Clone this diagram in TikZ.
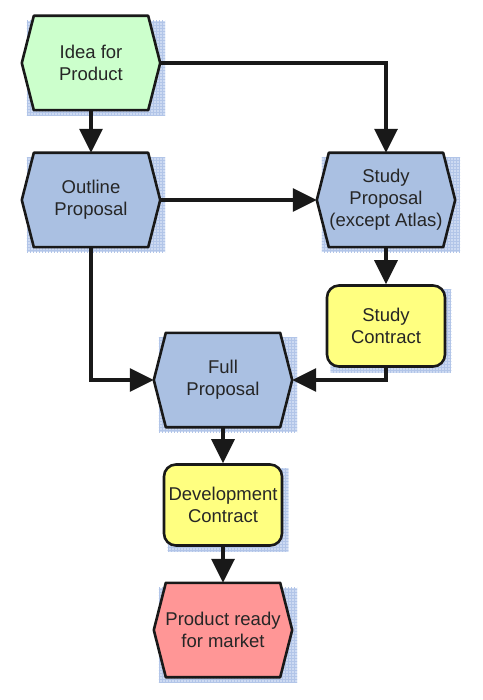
\documentclass[tikz,border=0pt]{standalone}
\usepackage{fontspec}
\setmainfont{Liberation Sans}
\usetikzlibrary{arrows.meta,backgrounds,patterns}
\definecolor{ideagreen}{RGB}{204,255,204}
\definecolor{propblue}{RGB}{170,192,226}
\definecolor{contractyellow}{RGB}{255,255,128}
\definecolor{marketred}{RGB}{255,150,150}
\definecolor{shadefill}{RGB}{205,218,242}
\definecolor{shadegrid}{RGB}{178,197,232}
\definecolor{edgeline}{RGB}{25,25,25}
\tikzset{
  hexnode/.style={minimum width=138pt,minimum height=94pt,inner sep=0pt,align=center},
  contract/.style={draw=edgeline,line width=2.6pt,fill=contractyellow,rounded corners=12pt,
    minimum width=118pt,minimum height=81pt,inner sep=0pt,align=center},
  hexline/.style={draw=edgeline,line width=2.6pt,line join=round},
  flow/.style={draw=edgeline,line width=3.4pt,-{Triangle[length=24pt,width=23pt]}},
  shadowbox/.style={fill=shadefill,postaction={pattern=grid,pattern color=shadegrid}}
}
\newcommand{\drawhex}[2]{%
  \draw[hexline,fill=#2] (#1.west) -- ([xshift=12pt]#1.north west) -- ([xshift=-12pt]#1.north east)
    -- (#1.east) -- ([xshift=-12pt]#1.south east) -- ([xshift=12pt]#1.south west) -- cycle;}
\begin{document}
\begin{tikzpicture}[x=1pt,y=-1pt,font=\fontsize{18.5}{22}\selectfont,text=black!85]
				\useasboundingbox (0,0) rectangle (482,700);
				% steps
				\node[hexnode] (idea) at(91, 63){Idea for\\Product};
				\node[hexnode] (outline) at(91, 200){Outline\\Proposal};
				\node[hexnode] (study) at(386, 200){Study\\Proposal\\(except Atlas)};
				\node[contract] (studyc) at(386, 326){Study\\Contract};
				\node[hexnode] (full) at(223, 380){Full\\Proposal};
				\node[contract] (dev) at(223, 505){Development\\Contract};
				\node[hexnode] (product) at(223, 630){Product ready\\for market};
				% shadows and hexagons
				\begin{scope}[on background layer]
					\foreach \n in {idea,outline,study,studyc,full,dev,product}{
						\fill[shadowbox] ([xshift=5pt,yshift=-5pt]\n.north west) rectangle ([xshift=5pt,yshift=-5pt]\n.south east);
					}
					\drawhex{idea}{ideagreen}
					\drawhex{outline}{propblue}
					\drawhex{study}{propblue}
					\drawhex{full}{propblue}
					\drawhex{product}{marketred}
				\end{scope}
				% flows
				\draw[flow] (idea) -- (outline);
				\draw[flow] (idea.east) -| (study.north);
				\draw[flow] (outline) -- (study);
				\draw[flow] (study) -- (studyc);
				\draw[flow] (outline.south) |- (full.west);
				\draw[flow] (studyc.south) |- (full.east);
				\draw[flow] (full) -- (dev);
				\draw[flow] (dev) -- (product);
			\end{tikzpicture}
\end{document}
